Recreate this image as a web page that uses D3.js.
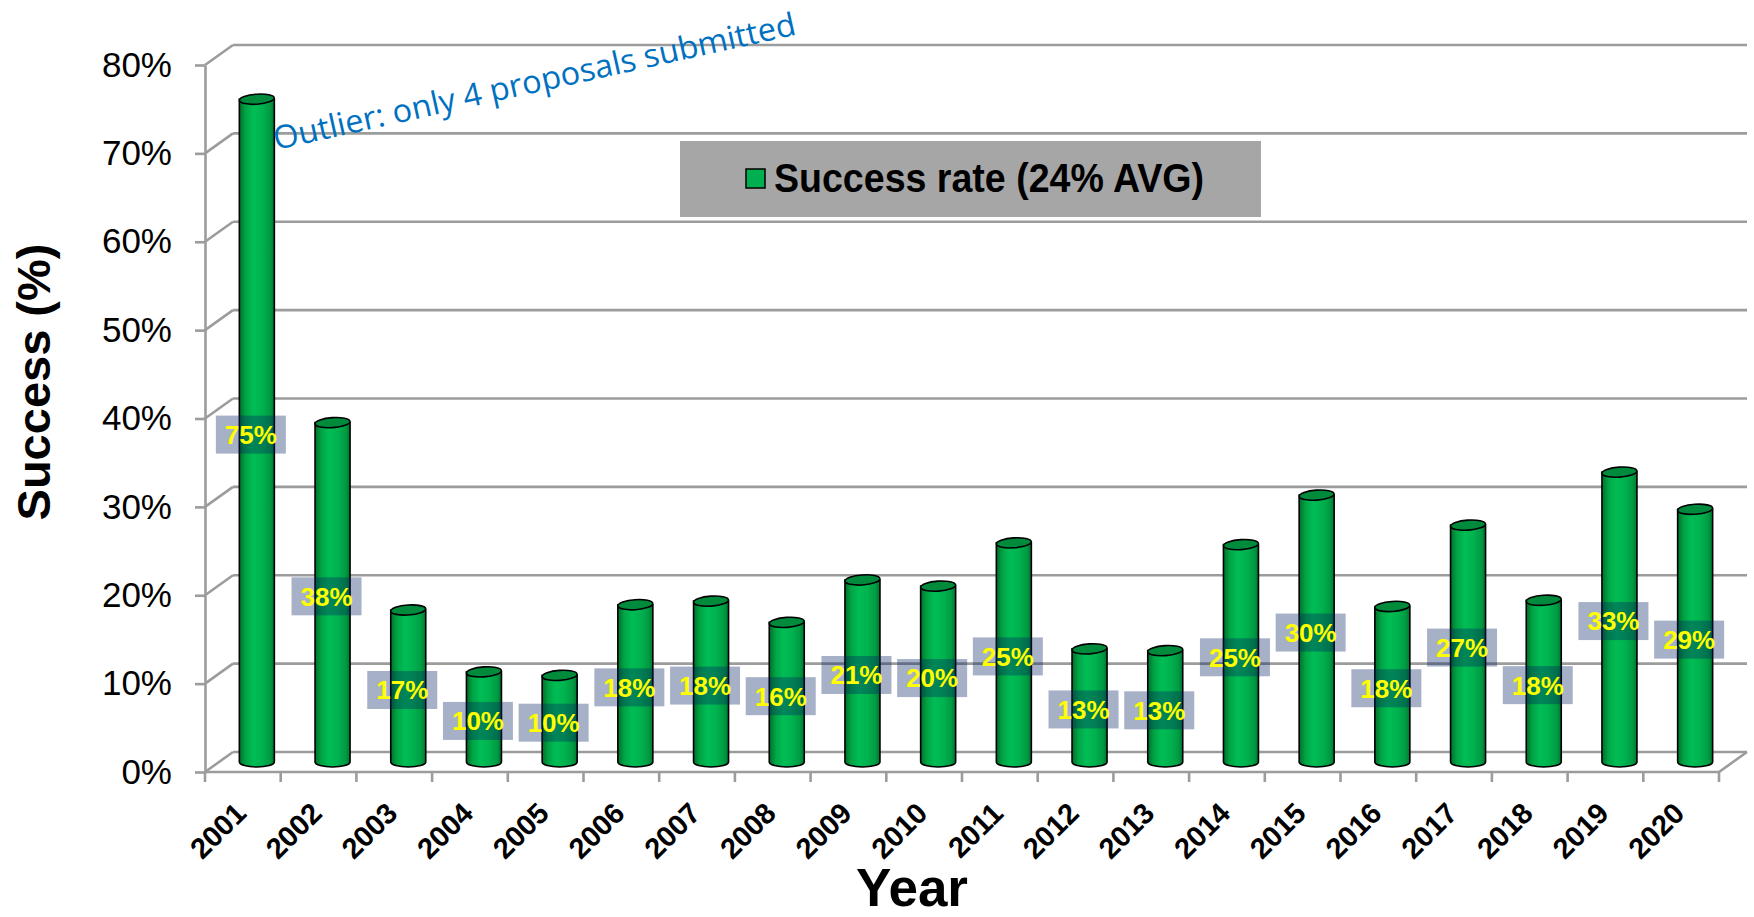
<!DOCTYPE html>
<meta charset="utf-8">
<style>
body { margin: 0; background: #fff; }
svg text { font-family: Arial, "Liberation Sans", sans-serif; }
.grid line { stroke: #9c9c9c; stroke-width: 2.6; }
.yaxis path, .yaxis line { stroke: #9c9c9c; stroke-width: 2.6; }
</style>
<body>
<script src="https://d3js.org/d3.v7.min.js"></script>
<script>
var years = ['2001', '2002', '2003', '2004', '2005', '2006', '2007', '2008', '2009', '2010',
             '2011', '2012', '2013', '2014', '2015', '2016', '2017', '2018', '2019', '2020']
var rates = [0.750, 0.384, 0.172, 0.102, 0.098, 0.178, 0.182, 0.158, 0.206, 0.199,
             0.248, 0.128, 0.126, 0.246, 0.302, 0.176, 0.268, 0.183, 0.328, 0.286]
var yTicks = [0, 0.1, 0.2, 0.3, 0.4, 0.5, 0.6, 0.7, 0.8]
var legendLabel = 'Success rate (24% AVG)'
var noteText = 'Outlier: only 4 proposals submitted'

var width = 1754
var height = 917
var depthX = 28, depthY = -20   // 3d wall offset

var x = d3.scaleBand().domain(years).range([205, 1719])
var y = d3.scaleLinear().domain([0, 0.8]).range([772, 65])
var pct = d3.format('.0%')

var svg = d3.select('body').append('svg')
    .attr('width', width)
    .attr('height', height)

var grad = svg.append('defs').append('linearGradient')
    .attr('id', 'barGrad')
    .attr('x1', 0).attr('x2', 1).attr('y1', 0).attr('y2', 0)
var stops = [[0, '#006f2c'], [0.18, '#00a444'], [0.4, '#00bd55'], [0.65, '#00b24f'], [0.88, '#009a42'], [1, '#007530']]
grad.selectAll('stop').data(stops).enter().append('stop')
    .attr('offset', function (d) { return d[0] })
    .attr('stop-color', function (d) { return d[1] })

// walls: side diagonals + back gridlines
var x0 = x.range()[0], x1 = x.range()[1]
var grid = svg.append('g').attr('class', 'grid')
grid.selectAll('.side').data(yTicks).enter().append('line')
    .attr('x1', x0).attr('y1', function (d) { return y(d) })
    .attr('x2', x0 + depthX).attr('y2', function (d) { return y(d) + depthY })
grid.selectAll('.back').data(yTicks).enter().append('line')
    .attr('x1', x0 + depthX).attr('y1', function (d) { return y(d) + depthY })
    .attr('x2', x1 + depthX).attr('y2', function (d) { return y(d) + depthY })

// floor front edge
grid.append('line')
    .attr('x1', x0).attr('y1', y(0)).attr('x2', x1).attr('y2', y(0))
grid.append('line')
    .attr('x1', x1).attr('y1', y(0)).attr('x2', x1 + depthX).attr('y2', y(0) + depthY)
grid.selectAll('.xtick').data(years.concat(['end'])).enter().append('line')
    .attr('x1', function (d) { return d === 'end' ? x1 : x(d) })
    .attr('x2', function (d) { return d === 'end' ? x1 : x(d) })
    .attr('y1', y(0)).attr('y2', y(0) + 10)

var yAxis = svg.append('g')
    .attr('class', 'yaxis')
    .attr('transform', 'translate(' + x0 + ',0)')
    .call(d3.axisLeft(y).tickValues(yTicks).tickFormat(pct).tickSize(10).tickSizeOuter(0).tickPadding(23))
yAxis.selectAll('text')
    .attr('font-size', 35)
    .attr('fill', '#000')
    .style('font-family', 'Arial, "Liberation Sans", sans-serif')

// cylinders
var rx = 17.5, ry = 5
var data = years.map(function (d, i) { return { year: d, value: rates[i] } })
function barX(d) { return x(d.year) + x.bandwidth() / 2 + depthX / 2 }
function barTop(d) { return y(d.value) + depthY / 2 }
var base = y(0) + depthY / 2

var bars = svg.append('g').selectAll('g').data(data).enter().append('g')
bars.append('path')
    .attr('d', function (d) {
        var c = barX(d), t = barTop(d)
        return 'M' + (c - rx) + ',' + t + 'L' + (c - rx) + ',' + base +
            'A' + rx + ',' + ry + ' 0 0 0 ' + (c + rx) + ',' + base +
            'L' + (c + rx) + ',' + t + 'Z'
    })
    .attr('fill', 'url(#barGrad)')
    .attr('stroke', '#000')
    .attr('stroke-width', 1.6)
bars.append('ellipse')
    .attr('cx', barX).attr('cy', barTop)
    .attr('rx', rx).attr('ry', ry)
    .attr('transform', function (d) { return 'rotate(-4,' + barX(d) + ',' + barTop(d) + ')' })
    .attr('fill', '#008a3c')
    .attr('stroke', '#000')
    .attr('stroke-width', 1.6)

// data labels
var labels = svg.append('g').selectAll('g').data(data).enter().append('g')
    .attr('transform', function (d) { return 'translate(' + (barX(d) - 6) + ',' + ((barTop(d) + base) / 2 + 4) + ')' })
labels.append('rect')
    .attr('x', -35).attr('y', -19).attr('width', 70).attr('height', 38)
    .attr('fill', 'rgba(0,32,96,0.35)')
labels.append('text')
    .attr('text-anchor', 'middle')
    .attr('dy', '0.36em')
    .attr('font-size', 26)
    .attr('font-weight', 'bold')
    .attr('fill', '#ffff00')
    .text(function (d) { return pct(d.value) })

// year labels
svg.append('g').selectAll('text').data(years).enter().append('text')
    .attr('transform', function (d) { return 'translate(' + (x(d) + x.bandwidth() / 2 + 5) + ',815) rotate(-45)' })
    .attr('text-anchor', 'end')
    .attr('font-size', 29)
    .attr('font-weight', 'bold')
    .text(function (d) { return d })

// axis titles
svg.append('text')
    .attr('transform', 'translate(50,382) rotate(-90)')
    .attr('text-anchor', 'middle')
    .attr('font-size', 47)
    .attr('font-weight', 'bold')
    .text('Success (%)')
svg.append('text')
    .attr('x', 912).attr('y', 906)
    .attr('text-anchor', 'middle')
    .attr('font-size', 53)
    .attr('font-weight', 'bold')
    .text('Year')

// legend
var legend = svg.append('g')
legend.append('rect')
    .attr('x', 680).attr('y', 141).attr('width', 581).attr('height', 76)
    .attr('fill', '#a6a6a6')
legend.append('rect')
    .attr('x', 746).attr('y', 169).attr('width', 19).attr('height', 19)
    .attr('fill', '#00b050').attr('stroke', '#000').attr('stroke-width', 1.5)
legend.append('text')
    .attr('x', 774).attr('y', 192)
    .attr('font-size', 41)
    .attr('font-weight', 'bold')
    .attr('textLength', 430)
    .attr('lengthAdjust', 'spacingAndGlyphs')
    .text(legendLabel)

// outlier note
svg.append('text')
    .attr('transform', 'translate(276,150) rotate(-12.5)')
    .style('font-family', '"Open Sans", "Noto Sans", sans-serif')
    .attr('font-size', 32)
    .attr('fill', '#0070c0')
    .attr('textLength', 534)
    .attr('lengthAdjust', 'spacingAndGlyphs')
    .text(noteText)
</script>
</body>
